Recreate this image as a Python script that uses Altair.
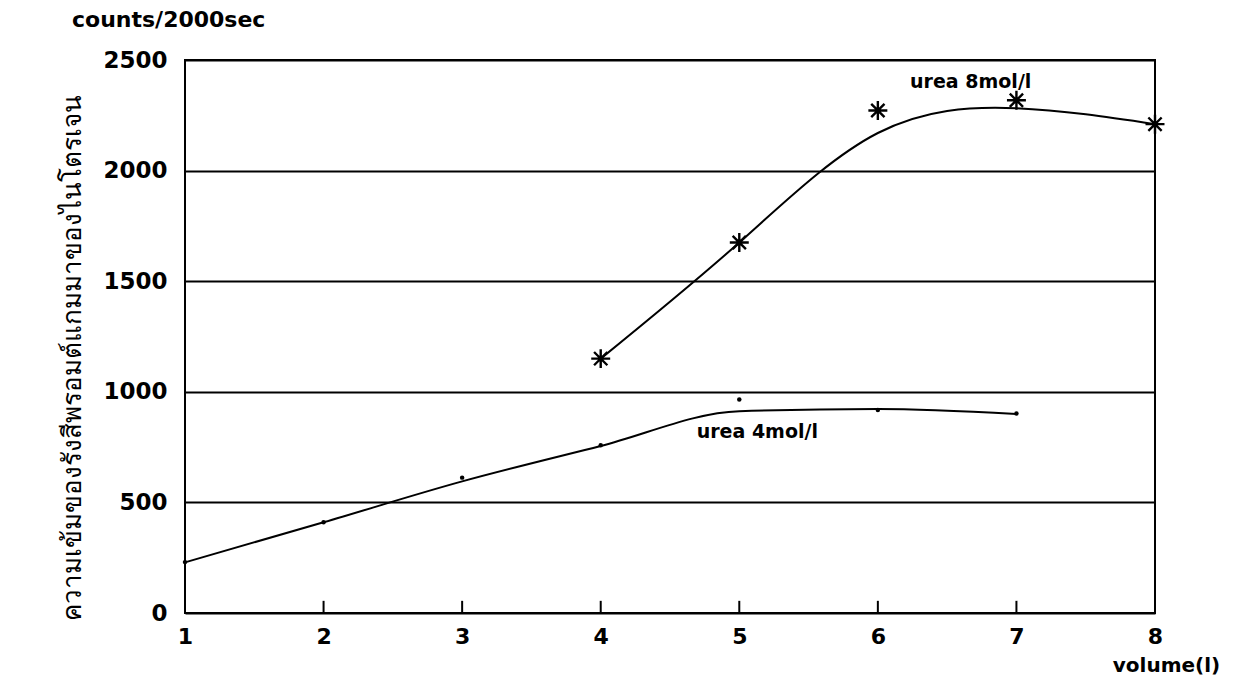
import altair as alt
import pandas as pd

# ---- data ----
vol_4 = [1, 2, 3, 4, 5, 6, 7]
pts_4 = [230, 410, 612, 758, 965, 918, 902]        # measured dots, urea 4mol/l
fit_4 = [229, 410, 595, 755, 912, 922, 900]        # drawn smooth curve, urea 4mol/l

vol_8 = [4, 5, 6, 7, 8]
pts_8 = [1150, 1675, 2272, 2318, 2210]             # asterisks, urea 8mol/l
fit_8 = [1150, 1675, 2170, 2282, 2210]             # drawn smooth curve, urea 8mol/l

x_ticks = [1, 2, 3, 4, 5, 6, 7, 8]
y_grid = [0, 500, 1000, 1500, 2000, 2500]

labels = ["urea 8mol/l", "urea 4mol/l"]
label_x = [6.67, 5.13]
label_y = [2400, 820]

y_title = "ความเข้มของรังสีพรอมต์แกมมาของไนโตรเจน"
x_title = "volume(l)"
top_title = "counts/2000sec"

FONT = "DejaVu Sans"
W, H = 970, 553

df4 = pd.DataFrame({"v": vol_4, "p": pts_4, "f": fit_4})
df8 = pd.DataFrame({"v": vol_8, "p": pts_8, "f": fit_8})
dfl = pd.DataFrame({"t": labels, "x": label_x, "y": label_y})

xs = alt.Scale(domain=[1, 8], nice=False, zero=False, padding=0)
ys = alt.Scale(domain=[0, 2500], nice=False)

x_axis = alt.Axis(values=x_ticks, format="d", title=x_title, domain=False, ticks=False, grid=False,
                  labelFont=FONT, labelFontSize=22, labelFontWeight="bold", labelColor="black",
                  labelPadding=13, labelFlush=False,
                  titleFont=FONT, titleFontSize=20, titleFontWeight="bold", titleColor="black",
                  titleX=981, titleY=52, titleAlign="center", titleBaseline="middle")
y_axis = alt.Axis(values=y_grid, format="d", title=y_title, domain=False, ticks=False, grid=True,
                  gridColor="black", gridWidth=2, gridOpacity=1,
                  labelFont=FONT, labelFontSize=23, labelFontWeight="bold", labelColor="black",
                  labelPadding=18, labelFlush=False,
                  titleFont="Noto Sans", titleFontSize=26, titleFontWeight="normal", titleColor="black",
                  titleAngle=270, titleX=-113, titleY=297, titleAlign="center", titleBaseline="middle")

base4 = alt.Chart(df4)
base8 = alt.Chart(df8)

# inward x-axis ticks at the inner volumes 2..7, drawn as 2px-wide bars rising from the frame
ticks = base4.transform_filter("datum.v >= 2").transform_calculate(
    t0="0", t1="55"
).mark_bar(size=2, color="black", opacity=1).encode(
    x=alt.X("v:Q", scale=xs, axis=x_axis),
    y=alt.Y("t0:Q", scale=ys),
    y2=alt.Y2("t1:Q"),
)
line4 = base4.mark_line(color="black", strokeWidth=2, interpolate="monotone").encode(
    x=alt.X("v:Q", scale=xs, axis=x_axis),
    y=alt.Y("f:Q", scale=ys, axis=y_axis),
)
dots4 = base4.mark_point(shape="circle", filled=True, color="black", size=20, opacity=1).encode(
    x=alt.X("v:Q", scale=xs), y=alt.Y("p:Q", scale=ys)
)
line8 = base8.mark_line(color="black", strokeWidth=2, interpolate="natural").encode(
    x=alt.X("v:Q", scale=xs), y=alt.Y("f:Q", scale=ys)
)
asterisk = "M0,-1L0,1M-1,0L1,0M-0.7,-0.7L0.7,0.7M-0.7,0.7L0.7,-0.7"
stars8 = base8.mark_point(shape=asterisk, filled=False, color="black", strokeWidth=2.4, size=360, opacity=1).encode(
    x=alt.X("v:Q", scale=xs), y=alt.Y("p:Q", scale=ys)
)
texts = alt.Chart(dfl).mark_text(font=FONT, fontSize=19, fontWeight="bold", color="black").encode(
    x=alt.X("x:Q", scale=xs), y=alt.Y("y:Q", scale=ys), text="t:N"
)

chart = alt.layer(line4, ticks, dots4, line8, stars8, texts).properties(
    width=W, height=H,
    autosize=alt.AutoSizeParams(type="none"),
    padding={"left": 177, "top": 52, "right": 73, "bottom": 67},
    background="white",
    title=alt.TitleParams(top_title, anchor="start", frame="group", dx=-113, offset=17, font=FONT,
                          fontSize=22, fontWeight="bold", color="black"),
).configure_view(stroke="black", strokeWidth=2)

chart.save("out.html", embed_options={"renderer": "svg", "actions": False})
